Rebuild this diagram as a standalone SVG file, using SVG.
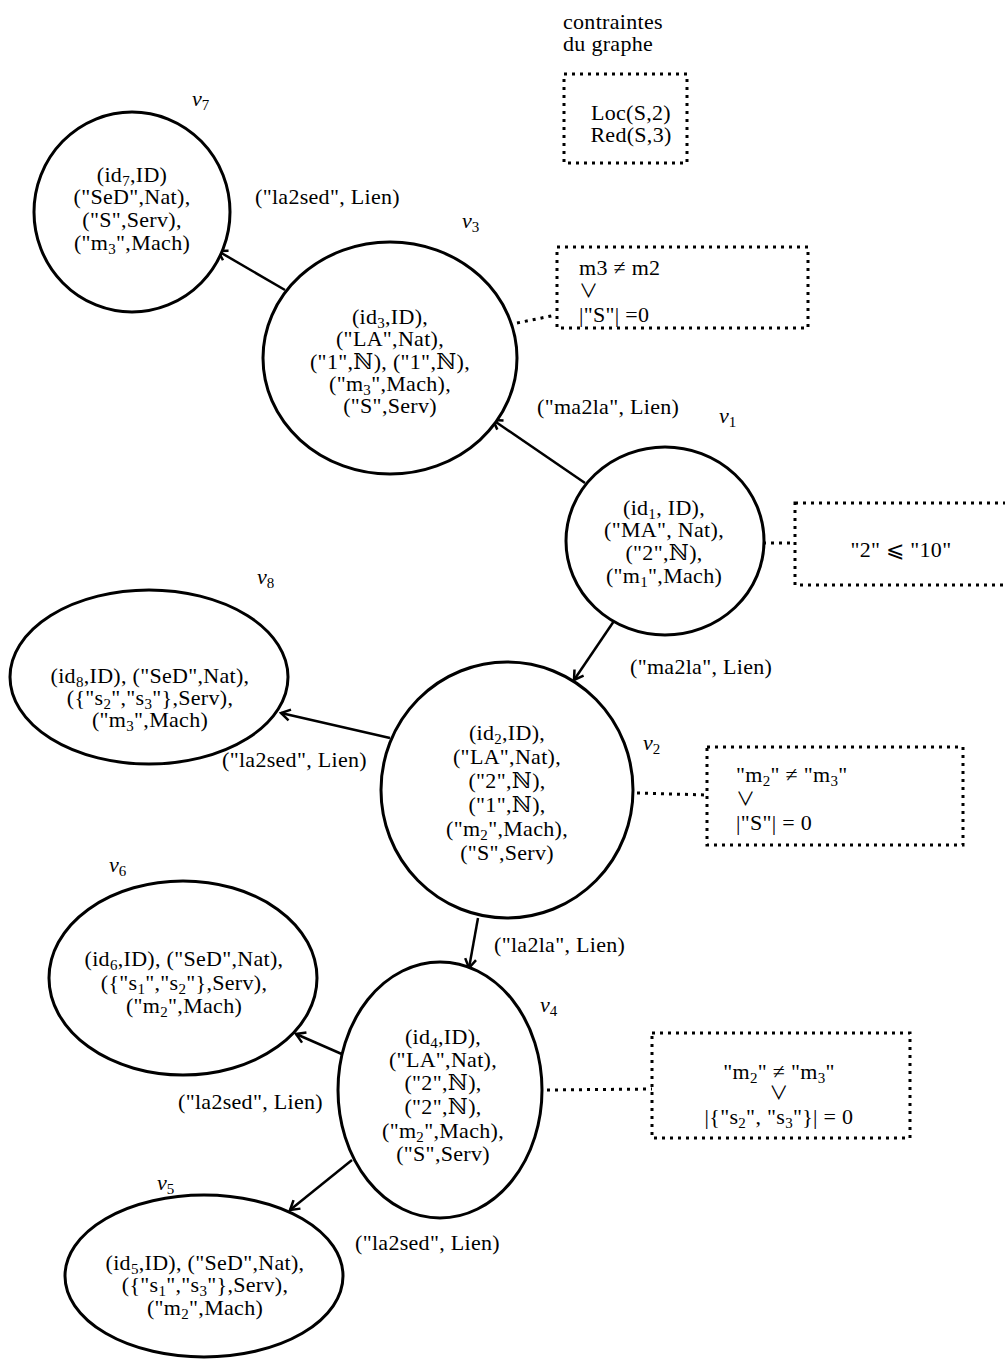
<svg xmlns="http://www.w3.org/2000/svg" width="1005" height="1359" viewBox="0 0 1005 1359">
<style>
.t{font-family:"Liberation Serif","DejaVu Serif",serif;font-size:22px;fill:#000;letter-spacing:0.3px}
.c{text-anchor:middle}
.s{font-size:15px}
.or{font-family:"Noto Sans CJK JP","DejaVu Sans",sans-serif;font-size:19px}
.lbl{font-family:"Liberation Serif","DejaVu Serif",serif;font-size:22px;font-style:italic;fill:#000}
.node{fill:#fff;stroke:#000;stroke-width:3}
.edge{stroke:#000;stroke-width:2.5;fill:none;marker-end:url(#arr)}
.dot{stroke:#000;stroke-width:3;stroke-dasharray:3 5;fill:none}
</style>
<defs>
<marker id="arr" markerUnits="userSpaceOnUse" markerWidth="14" markerHeight="14" viewBox="-12 -7 14 14" refX="0" refY="0" orient="auto">
<path d="M -9 -5.5 L 0 0 L -9 5.5" fill="none" stroke="#000" stroke-width="2.5"/>
</marker>
</defs>
<rect width="1005" height="1359" fill="#fff"/>

<g id="connectors">
<line class="edge" x1="585" y1="483" x2="493" y2="420"/>
<line class="edge" x1="285" y1="290" x2="218" y2="251"/>
<line class="edge" x1="614" y1="621" x2="574" y2="680"/>
<line class="edge" x1="390" y1="738" x2="281" y2="713"/>
<line class="edge" x1="478" y1="918" x2="469" y2="968"/>
<line class="edge" x1="344" y1="1055" x2="296" y2="1034"/>
<line class="edge" x1="352" y1="1160" x2="290" y2="1210"/>
<line class="dot" x1="517" y1="323" x2="556" y2="315"/>
<line class="dot" x1="763" y1="543" x2="795" y2="543"/>
<line class="dot" x1="637" y1="793" x2="707" y2="795"/>
<line class="dot" x1="547" y1="1090" x2="652" y2="1089"/>
<text class="t" x="255" y="204">("la2sed", Lien)</text>
<text class="t" x="537" y="414">("ma2la", Lien)</text>
<text class="t" x="630" y="674">("ma2la", Lien)</text>
<text class="t" x="222" y="767">("la2sed", Lien)</text>
<text class="t" x="494" y="952">("la2la", Lien)</text>
<text class="t" x="178" y="1109">("la2sed", Lien)</text>
<text class="t" x="355" y="1250">("la2sed", Lien)</text>
</g>

<g id="graph-constraints">
<text class="t"><tspan x="563" y="29">contraintes</tspan><tspan x="563" y="51">du graphe</tspan></text>
<rect class="dot" x="564" y="74" width="123" height="89"/>
<text class="t c"><tspan x="631" y="120">Loc(S,2)</tspan><tspan x="631" y="142">Red(S,3)</tspan></text>
</g>

<g id="v7">
<ellipse class="node" cx="132" cy="212" rx="98" ry="100"/>
<text class="t c"><tspan x="132" y="182">(id<tspan class="s" dy="4">7</tspan><tspan dy="-4">,ID)</tspan></tspan><tspan x="132" y="204">("SeD",Nat),</tspan><tspan x="132" y="227">("S",Serv),</tspan><tspan x="132" y="250">("m<tspan class="s" dy="4">3</tspan><tspan dy="-4">",Mach)</tspan></tspan></text>
<text class="lbl" x="192" y="106">ν<tspan class="s" font-style="normal" dy="4">7</tspan></text>
</g>

<g id="v3">
<ellipse class="node" cx="390" cy="358" rx="127" ry="116"/>
<text class="t c"><tspan x="390" y="324">(id<tspan class="s" dy="4">3</tspan><tspan dy="-4">,ID),</tspan></tspan><tspan x="390" y="346">("LA",Nat),</tspan><tspan x="390" y="369">("1",ℕ), ("1",ℕ),</tspan><tspan x="390" y="391">("m<tspan class="s" dy="4">3</tspan><tspan dy="-4">",Mach),</tspan></tspan><tspan x="390" y="413">("S",Serv)</tspan></text>
<text class="lbl" x="462" y="228">ν<tspan class="s" font-style="normal" dy="4">3</tspan></text>
</g>

<g id="c3">
<rect class="dot" x="557" y="247" width="251" height="81"/>
<text class="t"><tspan x="579" y="275">m3 ≠ m2</tspan><tspan x="579" y="298" class="or">∨</tspan><tspan x="579" y="322">|"S"| =0</tspan></text>
</g>

<g id="v1">
<ellipse class="node" cx="665" cy="541" rx="99" ry="94"/>
<text class="t c"><tspan x="664" y="515">(id<tspan class="s" dy="4">1</tspan><tspan dy="-4">, ID),</tspan></tspan><tspan x="664" y="537">("MA", Nat),</tspan><tspan x="664" y="560">("2",ℕ),</tspan><tspan x="664" y="583">("m<tspan class="s" dy="4">1</tspan><tspan dy="-4">",Mach)</tspan></tspan></text>
<text class="lbl" x="719" y="423">ν<tspan class="s" font-style="normal" dy="4">1</tspan></text>
</g>

<g id="c1">
<rect class="dot" x="795" y="503" width="215" height="82"/>
<text class="t c" x="901" y="557">"2" ⩽ "10"</text>
</g>

<g id="v8">
<ellipse class="node" cx="149" cy="677" rx="139" ry="87"/>
<text class="t c"><tspan x="150" y="683">(id<tspan class="s" dy="4">8</tspan><tspan dy="-4">,ID), ("SeD",Nat),</tspan></tspan><tspan x="150" y="705">({"s<tspan class="s" dy="4">2</tspan><tspan dy="-4">","s</tspan><tspan class="s" dy="4">3</tspan><tspan dy="-4">"},Serv),</tspan></tspan><tspan x="150" y="727">("m<tspan class="s" dy="4">3</tspan><tspan dy="-4">",Mach)</tspan></tspan></text>
<text class="lbl" x="257" y="584">ν<tspan class="s" font-style="normal" dy="4">8</tspan></text>
</g>

<g id="v2">
<ellipse class="node" cx="507" cy="790" rx="126" ry="128"/>
<text class="t c"><tspan x="507" y="740">(id<tspan class="s" dy="4">2</tspan><tspan dy="-4">,ID),</tspan></tspan><tspan x="507" y="764">("LA",Nat),</tspan><tspan x="507" y="788">("2",ℕ),</tspan><tspan x="507" y="812">("1",ℕ),</tspan><tspan x="507" y="836">("m<tspan class="s" dy="4">2</tspan><tspan dy="-4">",Mach),</tspan></tspan><tspan x="507" y="860">("S",Serv)</tspan></text>
<text class="lbl" x="643" y="750">ν<tspan class="s" font-style="normal" dy="4">2</tspan></text>
</g>

<g id="c2">
<rect class="dot" x="707" y="747" width="256" height="98"/>
<text class="t"><tspan x="736" y="782">"m<tspan class="s" dy="4">2</tspan><tspan dy="-4">" ≠ "m</tspan><tspan class="s" dy="4">3</tspan><tspan dy="-4">"</tspan></tspan><tspan x="736" y="806" class="or">∨</tspan><tspan x="736" y="830">|"S"| = 0</tspan></text>
</g>

<g id="v6">
<ellipse class="node" cx="183" cy="978" rx="134" ry="97"/>
<text class="t c"><tspan x="184" y="966">(id<tspan class="s" dy="4">6</tspan><tspan dy="-4">,ID), ("SeD",Nat),</tspan></tspan><tspan x="184" y="990">({"s<tspan class="s" dy="4">1</tspan><tspan dy="-4">","s</tspan><tspan class="s" dy="4">2</tspan><tspan dy="-4">"},Serv),</tspan></tspan><tspan x="184" y="1013">("m<tspan class="s" dy="4">2</tspan><tspan dy="-4">",Mach)</tspan></tspan></text>
<text class="lbl" x="109" y="872">ν<tspan class="s" font-style="normal" dy="4">6</tspan></text>
</g>

<g id="v4">
<ellipse class="node" cx="440" cy="1090" rx="102" ry="128"/>
<text class="t c"><tspan x="443" y="1044">(id<tspan class="s" dy="4">4</tspan><tspan dy="-4">,ID),</tspan></tspan><tspan x="443" y="1067">("LA",Nat),</tspan><tspan x="443" y="1090">("2",ℕ),</tspan><tspan x="443" y="1114">("2",ℕ),</tspan><tspan x="443" y="1138">("m<tspan class="s" dy="4">2</tspan><tspan dy="-4">",Mach),</tspan></tspan><tspan x="443" y="1161">("S",Serv)</tspan></text>
<text class="lbl" x="540" y="1012">ν<tspan class="s" font-style="normal" dy="4">4</tspan></text>
</g>

<g id="c4">
<rect class="dot" x="652" y="1033" width="258" height="105"/>
<text class="t c"><tspan x="779" y="1079">"m<tspan class="s" dy="4">2</tspan><tspan dy="-4">" ≠ "m</tspan><tspan class="s" dy="4">3</tspan><tspan dy="-4">"</tspan></tspan><tspan x="779" y="1100" class="or">∨</tspan><tspan x="779" y="1124">|{"s<tspan class="s" dy="4">2</tspan><tspan dy="-4">", "s</tspan><tspan class="s" dy="4">3</tspan><tspan dy="-4">"}| = 0</tspan></tspan></text>
</g>

<g id="v5">
<ellipse class="node" cx="204" cy="1276" rx="139" ry="81"/>
<text class="t c"><tspan x="205" y="1270">(id<tspan class="s" dy="4">5</tspan><tspan dy="-4">,ID), ("SeD",Nat),</tspan></tspan><tspan x="205" y="1292">({"s<tspan class="s" dy="4">1</tspan><tspan dy="-4">","s</tspan><tspan class="s" dy="4">3</tspan><tspan dy="-4">"},Serv),</tspan></tspan><tspan x="205" y="1315">("m<tspan class="s" dy="4">2</tspan><tspan dy="-4">",Mach)</tspan></tspan></text>
<text class="lbl" x="157" y="1190">ν<tspan class="s" font-style="normal" dy="4">5</tspan></text>
</g>
</svg>
